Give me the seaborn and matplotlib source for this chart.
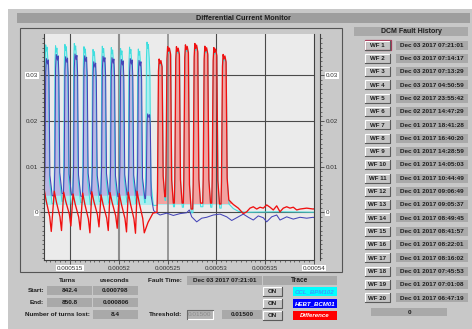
import matplotlib
matplotlib.use("Agg")
import matplotlib.pyplot as plt
from matplotlib.patches import Rectangle
from matplotlib.ticker import MultipleLocator, FixedLocator, FuncFormatter
import pandas as pd
import seaborn as sns

W, H = 472, 329
FONT = ["Liberation Sans Narrow", "Liberation Sans", "DejaVu Sans"]
plt.rcParams["font.family"] = FONT

# ---------------- trace data (time in us, signal in A) ----------------
# cyan = CCL_BPM102, blue = HEBT_BCM01, red = difference
cyc_start = [512.32, 513.33, 514.29, 515.25, 516.24, 517.17, 518.12, 519.04,
             519.99, 520.91, 521.81, 522.70]
cyan_peak = [0.0366, 0.0364, 0.0367, 0.0369, 0.0362, 0.0356, 0.0363, 0.0360,
             0.0358, 0.0361, 0.0357, 0.0372]
cyan_low = [0.0022, 0.0019, 0.0024, 0.0018, 0.0021, 0.0016, 0.0023, 0.0020,
            0.0017, 0.0022, 0.0019, 0.0021, 0.0015]
blue_peak = [0.0336, 0.0345, 0.0340, 0.0346, 0.0342, 0.0329, 0.0341, 0.0338,
             0.0334, 0.0336, 0.0332, 0.0215]
blue_low = [0.0040, 0.0036, 0.0041, 0.0038, 0.0035, 0.0040, 0.0037, 0.0039,
            0.0034, 0.0038, 0.0036, 0.0030, 0.0004]

saw_t = [512.34, 513.39, 514.35, 515.31, 516.30, 517.23, 518.18, 519.10,
         520.05, 520.97, 521.87]
saw_peak = [0.0051, 0.0046, 0.0044, 0.0040, 0.0042, 0.0045, 0.0038, 0.0043,
            0.0041, 0.0044, 0.0046]
saw_low = [-0.0042, -0.0040, -0.0030, -0.0038, -0.0045, -0.0032, -0.0040,
           -0.0035, -0.0043, -0.0046, -0.0045]
red_gap_t = [523.00, 523.50]
red_gap_v = [-0.0022, -0.0002]

lost_start = [523.914, 524.785, 525.687, 526.609, 527.572, 528.596, 529.519, 530.471]
red_peak = [0.0335, 0.0362, 0.0362, 0.0366, 0.0369, 0.0363, 0.0360, 0.0345]
red_low = [0.0000, 0.0034, 0.0020, 0.0020, 0.0007, 0.0020, 0.0020, 0.0018, 0.0027]
cyan_lost_peak = [0.0331, 0.0358, 0.0358, 0.0362, 0.0365, 0.0359, 0.0356, 0.0341]
cyan_lost_low = [0.0015, 0.0026, 0.0012, 0.0011, -0.0001, 0.0012, 0.0011, 0.0009, 0.0018]

red_tail_t = [531.732, 532.244, 532.756, 533.105, 533.443, 533.781, 534.129, 534.467,
              534.805, 535.154, 535.492, 535.830, 536.178, 536.517, 536.855, 537.203,
              537.541, 537.879, 538.228, 538.566, 539.252, 539.928, 540.440]
red_tail_v = [0.0017, 0.0009, -0.0003, 0.0001, 0.0009, 0.0012, 0.0007, 0.0011,
              0.0009, 0.0016, 0.0011, 0.0005, 0.0014, 0.0001, 0.0009, 0.0012,
              0.0009, 0.0011, 0.0005, 0.0007, 0.0009, 0.0007, 0.0011]
blue_tail_t = [523.709, 524.221, 524.908, 525.584, 526.271, 526.957, 527.223, 527.469,
               527.982, 528.494, 529.006, 529.683, 530.369, 531.055, 531.568, 532.080,
               532.756, 533.269, 533.781, 534.293, 534.806, 535.154, 535.666, 536.178,
               536.517, 537.203, 537.879, 538.566, 539.252, 539.929, 540.441]
blue_tail_v = [0.0001, -0.0006, -0.0002, -0.0007, -0.0003, -0.0001, 0.0005, -0.0010,
               -0.0021, -0.0013, -0.0011, -0.0006, -0.0004, -0.0010, -0.0018, -0.0012,
               -0.0004, -0.0011, -0.0017, -0.0008, -0.0012, -0.0021, -0.0010, -0.0006,
               -0.0017, -0.0010, -0.0015, -0.0011, -0.0013, -0.0011, -0.0017]
cyan_tail_t = [531.73, 532.25, 533.00, 536.50, 540.44]
cyan_tail_v = [0.0008, 0.0002, 0.0000, 0.0001, 0.0000]

# one-turn outlines: offset (us) and fraction of pulse height
cyan_dt = [0, 0.07, 0.13, 0.19, 0.26, 0.33, 0.42, 0.49, 0.58, 0.84]
cyan_fr = [0, 0.2, 0.9, 1.0, 0.96, 0.985, 0.90, 0.80, 0.15, 0]
blue_dt = [0.04, 0.12, 0.19, 0.26, 0.32, 0.38, 0.46, 0.53, 0.62, 0.86]
blue_fr = [0, 0.2, 0.9, 1.0, 0.98, 0.96, 0.99, 0.86, 0.15, 0]
lost_dt = [0, 0.05, 0.15, 0.22, 0.30, 0.40, 0.52, 0.63, 0.80]
lost_fr = [0, 0.15, 0.92, 1.0, 0.97, 0.99, 0.95, 0.15, 0]
saw_dt = [0, 0.22, 0.45, 0.58, 0.74]
saw_fr = [1.0, 0.72, 0.48, 0.35, 0.0]

# GUI texts
turns = ["842.4", "850.8", "8.4"]
usec = ["0.000798", "0.000806"]
fault_time = "Dec 03 2017 07:21:01"
threshold = "0.01500"
traces = ["CCL_BPM102", "HEBT_BCM01", "Difference"]
history = ["Dec 03 2017 07:21:01", "Dec 03 2017 07:14:17", "Dec 03 2017 07:13:29",
           "Dec 03 2017 04:50:59", "Dec 02 2017 23:55:42", "Dec 02 2017 14:47:29",
           "Dec 01 2017 18:41:28", "Dec 01 2017 16:40:20", "Dec 01 2017 14:28:59",
           "Dec 01 2017 14:05:03", "Dec 01 2017 10:44:49", "Dec 01 2017 09:06:49",
           "Dec 01 2017 09:05:37", "Dec 01 2017 08:49:45", "Dec 01 2017 08:41:57",
           "Dec 01 2017 08:22:01", "Dec 01 2017 08:16:02", "Dec 01 2017 07:45:53",
           "Dec 01 2017 07:01:08", "Dec 01 2017 06:47:19"]


def outline(starts, peaks, lows, dts, frs):
    t, v = [], []
    for k, (s, p) in enumerate(zip(starts, peaks)):
        for i, (d, f) in enumerate(zip(dts, frs)):
            b = lows[k + 1] if i >= len(dts) - 2 else lows[k]
            t.append(s + d)
            v.append(b + f * (p - b))
    return t, v


ct1, cv1 = outline(cyc_start, cyan_peak, cyan_low, cyan_dt, cyan_fr)
ct2, cv2 = outline([s + 0.02 for s in lost_start], cyan_lost_peak, cyan_lost_low, lost_dt, lost_fr)
cyan = pd.DataFrame({"t": ct1 + ct2 + cyan_tail_t, "v": cv1 + cv2 + cyan_tail_v})

bt, bv = outline(cyc_start, blue_peak, blue_low, blue_dt, blue_fr)
blue = pd.DataFrame({"t": bt + blue_tail_t, "v": bv + blue_tail_v})

st, sv = [512.2], [-0.003]
for k, (s, p) in enumerate(zip(saw_t, saw_peak)):
    for d, f in zip(saw_dt, saw_fr):
        st.append(s + d)
        sv.append(saw_low[k] + f * (p - saw_low[k]))
rt, rv = outline(lost_start, red_peak, red_low, lost_dt, lost_fr)
red = pd.DataFrame({"t": st + red_gap_t + rt + red_tail_t, "v": sv + red_gap_v + rv + red_tail_v})

# ---------------- figure ----------------
fig = plt.figure(figsize=(W / 100, H / 100), dpi=100)
fig.patch.set_facecolor("white")
bg = fig.add_axes([0, 0, 1, 1], zorder=-5)
bg.set_xlim(0, W)
bg.set_ylim(H, 0)
bg.axis("off")

TXT = "#1c1c1c"
BOX = "#a9a9a9"


def rect(x0, y0, x1, y1, fc, ec="none", lw=0.0):
    bg.add_patch(Rectangle((x0, y0), x1 - x0, y1 - y0, fc=fc, ec=ec, lw=lw))


def label(x, y, s, ha="center", size=4.6, color=TXT, weight="bold", style="normal"):
    bg.text(x, y, s, ha=ha, va="center", fontsize=size, color=color,
            fontweight=weight, fontstyle=style)


def vbox(x0, y0, x1, y1, s, size=4.6):
    rect(x0, y0, x1, y1, BOX)
    label((x0 + x1) / 2, (y0 + y1) / 2 + 0.3, s, size=size)


def button(x0, y0, x1, y1, s, edge=None):
    rect(x0, y0, x1, y1, "#c4c4c4")
    bg.plot([x0, x0, x1], [y1, y0, y0], color="white", lw=0.8)
    bg.plot([x0, x1, x1], [y1, y1, y0], color="#5a5a5a", lw=0.8)
    if edge:
        rect(x0 - 0.5, y0 - 0.5, x1 + 0.5, y1 + 0.5, "none", ec=edge, lw=0.9)
    label((x0 + x1) / 2, (y0 + y1) / 2 + 0.3, s, size=4.4)


rect(8, 9, W, H, "#c8c8c8")
rect(17, 13, 470, 23, "#9e9e9e")
label(243, 18.3, "Differential Current Monitor", size=5.2)
rect(20, 28, 342, 272, "#c9c9c9", ec="#555555", lw=0.8)

# numbers under the plot
label(68, 280.5, "Turns")
label(115, 280.5, "useconds")
label(44, 290.5, "Start:", ha="right")
label(44, 302, "End:", ha="right")
label(90, 314, "Number of turns lost:", ha="right")
vbox(47, 286, 92, 295, turns[0])
vbox(93, 286, 138, 295, usec[0])
vbox(47, 297.5, 92, 306.5, turns[1])
vbox(93, 297.5, 138, 306.5, usec[1])
vbox(93, 309.5, 138, 318.5, turns[2])
label(182, 280.5, "Fault Time:", ha="right")
vbox(187, 276, 262, 285, fault_time)
label(182, 314, "Threshold:", ha="right")
rect(187, 309.5, 213, 318.5, "#b2b2b2")
bg.plot([187, 213, 213], [318.5, 318.5, 309.5], color="white", lw=0.8)
bg.plot([187, 187, 213], [318.5, 309.5, 309.5], color="#6a6a6a", lw=0.8)
label(200, 314.3, threshold, color="#8a8a8a", weight="normal")
vbox(222, 309.5, 262, 318.5, threshold)

# trace legend
vbox(263, 276, 337, 284.5, "Trace", size=4.8)
trace_bg = ["#00ffff", "#0000ff", "#ff0000"]
trace_fg = ["#3c9cff", "#ffffff", "#ffffff"]
for i, (name, fc, tc) in enumerate(zip(traces, trace_bg, trace_fg)):
    y0 = 287 + 12 * i
    button(263, y0, 282, y0 + 9, "ON")
    rect(293, y0, 337, y0 + 9, fc)
    label(315, y0 + 4.8, name, color=tc, style="italic", size=4.4)

# fault history
vbox(354, 27, 468, 36, "DCM Fault History", size=5.0)
for i, stamp in enumerate(history):
    yc = 45 + 13.3 * i
    button(365, yc - 4.5, 390, yc + 4.5, f"WF {i + 1}", edge="#a83858" if i == 0 else None)
    vbox(396, yc - 4.5, 468, yc + 4.5, stamp)
vbox(371, 308, 447, 316, "0")

# ---------------- waveform plot ----------------
ax = fig.add_axes([44 / W, 1 - 260 / H, (314 - 44) / W, (260 - 34) / H])
ax.set_facecolor("#ebebeb")
ax.set_xlim(512.336, 540.0)
ax.set_ylim(-0.01044, 0.03897)

ax.fill_between(cyan["t"], cyan["v"], 0.0016, where=cyan["v"] > 0.0016,
                interpolate=True, color="#aaeef0", lw=0, zorder=1)
ax.fill_between(blue["t"], blue["v"], 0.0036, where=blue["v"] > 0.0036,
                interpolate=True, color="#bab6e4", lw=0, zorder=1.1)
lost = (red["t"] > 523.8) & (red["v"] > 0.0018)
ax.fill_between(red["t"], red["v"], 0.0018, where=lost,
                interpolate=True, color="#f3a2a0", lw=0, zorder=1.2)

grid_x = [515, 520, 525, 530, 535]
grid_c = ["#4a4a4a", "#8e8e8e", "#8a8a8a", "#4a4a4a", "#4a4a4a"]
grid_w = [0.8, 1.5, 1.2, 0.8, 0.8]
for gx, gc, gw in zip(grid_x, grid_c, grid_w):
    ax.axvline(gx, color=gc, lw=gw, zorder=1.5)
for gy in [0, 0.01, 0.02, 0.03]:
    ax.axhline(gy, color="#4a4a4a", lw=0.8, zorder=1.5)

sns.lineplot(data=cyan, x="t", y="v", ax=ax, color="#3fdede", lw=0.75,
             sort=False, estimator=None, zorder=2)
sns.lineplot(data=blue, x="t", y="v", ax=ax, color="#4545b8", lw=0.75,
             sort=False, estimator=None, zorder=2.1)
sns.lineplot(data=red, x="t", y="v", ax=ax, color="#f01010", lw=0.95,
             sort=False, estimator=None, zorder=2.2)

ax.set_xlabel("")
ax.set_ylabel("")
ax.spines["top"].set_visible(False)
for s in ["left", "bottom", "right"]:
    ax.spines[s].set_color("#404040")
    ax.spines[s].set_linewidth(0.8)

y_major = [0, 0.01, 0.02, 0.03]
ax.xaxis.set_major_locator(MultipleLocator(5))
ax.xaxis.set_minor_locator(MultipleLocator(0.5))
ax.xaxis.set_major_formatter(FuncFormatter(lambda v, p: f"{v * 1e-6:g}"))
ax.yaxis.set_major_locator(FixedLocator(y_major))
ax.yaxis.set_minor_locator(MultipleLocator(0.001))
ax.yaxis.set_major_formatter(FuncFormatter(lambda v, p: f"{v:g}"))
ax.tick_params(axis="both", which="major", labelsize=4.5, length=3, width=0.6,
               color="#404040", labelcolor="#303030", pad=1.2)
ax.tick_params(axis="both", which="minor", length=1.6, width=0.5, color="#404040")

twin = ax.twinx()
twin.set_ylim(ax.get_ylim())
twin.spines["right"].set_position(("outward", 4.3))
twin.spines["right"].set_color("#404040")
twin.spines["right"].set_linewidth(0.8)
for s in ["top", "left", "bottom"]:
    twin.spines[s].set_visible(False)
twin.yaxis.set_major_locator(FixedLocator(y_major))
twin.yaxis.set_minor_locator(MultipleLocator(0.001))
twin.yaxis.set_major_formatter(FuncFormatter(lambda v, p: f"{v:g}"))
twin.tick_params(axis="y", which="major", labelsize=4.5, length=3, width=0.6,
                 color="#404040", labelcolor="#303030", pad=1.2)
twin.tick_params(axis="y", which="minor", length=1.6, width=0.5, color="#404040")

fig.canvas.draw()
hl = dict(fc="white", ec="none", pad=0.4)
for a in (ax, twin):
    for lab in a.get_yticklabels():
        if lab.get_text() in ("0", "0.03"):
            lab.set_bbox(hl)
for lab in ax.get_xticklabels():
    if lab.get_text() in ("0.000515", "0.00054"):
        lab.set_bbox(hl)

fig.savefig("out.png", dpi=100)
